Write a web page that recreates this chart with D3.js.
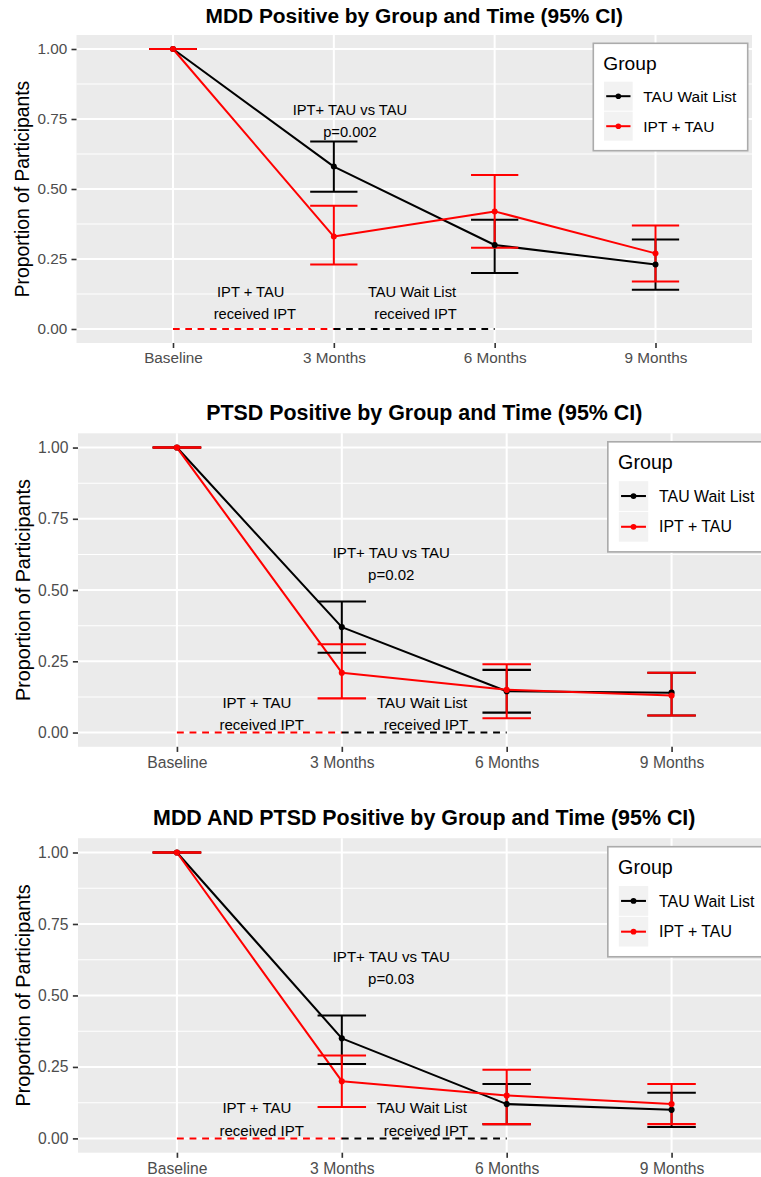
<!DOCTYPE html>
<html><head><meta charset="utf-8">
<script src="https://cdn.jsdelivr.net/npm/d3@7"></script>
<style>
body{margin:0;background:#fff}
svg{display:block;font-family:"Liberation Sans",Arial,Helvetica,sans-serif}
</style>
</head><body>
<svg id="chart" width="761" height="1177"></svg>
<script>
// ---------- DATA ----------
const categories = ["Baseline", "3 Months", "6 Months", "9 Months"];
const groups = ["TAU Wait List", "IPT + TAU"];
const yTicks = [0, 0.25, 0.5, 0.75, 1];
const yMinor = [0.125, 0.375, 0.625, 0.875];
const titles = [
  "MDD Positive by Group and Time (95% CI)",
  "PTSD Positive by Group and Time (95% CI)",
  "MDD AND PTSD Positive by Group and Time (95% CI)"
];
const pLabels = ["p=0.002", "p=0.02", "p=0.03"];
const compareLabel = "IPT+ TAU vs TAU";

// MDD
const mddTau   = [1.00, 0.58, 0.30, 0.23];
const mddTauLo = [1.00, 0.49, 0.20, 0.14];
const mddTauHi = [1.00, 0.67, 0.39, 0.32];
const mddIpt   = [1.00, 0.33, 0.42, 0.27];
const mddIptLo = [1.00, 0.23, 0.29, 0.17];
const mddIptHi = [1.00, 0.44, 0.55, 0.37];
// PTSD
const ptsdTau   = [1.00, 0.37, 0.145, 0.14];
const ptsdTauLo = [1.00, 0.28, 0.07, 0.06];
const ptsdTauHi = [1.00, 0.46, 0.22, 0.21];
const ptsdIpt   = [1.00, 0.21, 0.15, 0.13];
const ptsdIptLo = [1.00, 0.12, 0.05, 0.06];
const ptsdIptHi = [1.00, 0.31, 0.24, 0.21];
// MDD AND PTSD
const bothTau   = [1.00, 0.35, 0.12, 0.10];
const bothTauLo = [1.00, 0.26, 0.05, 0.04];
const bothTauHi = [1.00, 0.43, 0.19, 0.16];
const bothIpt   = [1.00, 0.20, 0.15, 0.12];
const bothIptLo = [1.00, 0.11, 0.05, 0.05];
const bothIptHi = [1.00, 0.29, 0.24, 0.19];

// annotation placements (in data units: x = category index 1..4, y = proportion)
const annMdd  = [
  {label: compareLabel, x: 2.10, y: 0.783}, {label: pLabels[0], x: 2.10, y: 0.705},
  {label: "IPT + TAU", x: 1.483, y: 0.133}, {label: "received IPT", x: 1.509, y: 0.056},
  {label: "TAU Wait List", x: 2.486, y: 0.133}, {label: "received IPT", x: 2.508, y: 0.056}
];
const annPtsd = [
  {label: compareLabel, x: 2.30, y: 0.632}, {label: pLabels[1], x: 2.30, y: 0.554},
  {label: "IPT + TAU", x: 1.485, y: 0.105}, {label: "received IPT", x: 1.514, y: 0.028},
  {label: "TAU Wait List", x: 2.487, y: 0.105}, {label: "received IPT", x: 2.51, y: 0.028}
];
const annBoth = [
  {label: compareLabel, x: 2.30, y: 0.637}, {label: pLabels[2], x: 2.30, y: 0.558},
  {label: "IPT + TAU", x: 1.485, y: 0.107}, {label: "received IPT", x: 1.514, y: 0.029},
  {label: "TAU Wait List", x: 2.485, y: 0.107}, {label: "received IPT", x: 2.51, y: 0.029}
];

// ---------- STYLE / LAYOUT ----------
const colors = ["#000000", "#ff0000"];
const panels = [
  {title: titles[0], series: [[mddTau, mddTauLo, mddTauHi], [mddIpt, mddIptLo, mddIptHi]], ann: annMdd,
   left: 76.5, right: 752, top: 35, bottom: 343, titleY: 22.7, k: 1},
  {title: titles[1], series: [[ptsdTau, ptsdTauLo, ptsdTauHi], [ptsdIpt, ptsdIptLo, ptsdIptHi]], ann: annPtsd,
   left: 78, right: 770.5, top: 433.3, bottom: 746.8, titleY: 420, k: 1.025},
  {title: titles[2], series: [[bothTau, bothTauLo, bothTauHi], [bothIpt, bothIptLo, bothIptHi]], ann: annBoth,
   left: 78, right: 770.5, top: 838.2, bottom: 1152.7, titleY: 825, k: 1.025}
];

const svg = d3.select("#chart");

function drawPanel(p) {
  const k = p.k;
  const g = svg.append("g");
  const x = d3.scalePoint().domain(categories).range([p.left, p.right]).padding(0.6);
  const y = d3.scaleLinear().domain([-0.05, 1.05]).range([p.bottom, p.top]);
  const xu = u => x(categories[0]) + (u - 1) * x.step();

  // panel background
  g.append("rect").attr("x", p.left).attr("y", p.top)
    .attr("width", p.right - p.left).attr("height", p.bottom - p.top).attr("fill", "#ebebeb");

  // grid
  g.selectAll(".minor").data(yMinor).join("line")
    .attr("x1", p.left).attr("x2", p.right).attr("y1", d => y(d)).attr("y2", d => y(d))
    .attr("stroke", "#fff").attr("stroke-width", 1 * k);
  g.selectAll(".majy").data(yTicks).join("line")
    .attr("x1", p.left).attr("x2", p.right).attr("y1", d => y(d)).attr("y2", d => y(d))
    .attr("stroke", "#fff").attr("stroke-width", 2 * k);
  g.selectAll(".majx").data(categories).join("line")
    .attr("x1", d => x(d)).attr("x2", d => x(d)).attr("y1", p.top).attr("y2", p.bottom)
    .attr("stroke", "#fff").attr("stroke-width", 2 * k);

  // dashed "received IPT" segments at y = 0
  const dashSegs = [
    {from: categories[0], to: categories[1], color: colors[1]},
    {from: categories[1], to: categories[2], color: colors[0]}
  ];
  g.selectAll(".dash").data(dashSegs).join("line")
    .attr("x1", d => x(d.from)).attr("x2", d => x(d.to)).attr("y1", y(0)).attr("y2", y(0))
    .attr("stroke", d => d.color).attr("stroke-width", 2 * k)
    .attr("stroke-dasharray", `${6.7 * k},${5.6 * k}`);

  const line = d3.line().x((d, i) => x(categories[i])).y(d => y(d));

  // lines
  p.series.forEach((s, gi) => {
    g.append("path").attr("d", line(s[0])).attr("fill", "none")
      .attr("stroke", colors[gi]).attr("stroke-width", 2 * k).attr("stroke-linejoin", "round");
  });
  // error bars
  const hw = 0.147 * x.step();
  p.series.forEach((s, gi) => {
    const eb = g.append("g").attr("stroke", colors[gi]).attr("stroke-width", 2 * k).attr("fill", "none");
    categories.forEach((c, i) => {
      const cx = x(c), lo = y(s[1][i]), hi = y(s[2][i]);
      eb.append("line").attr("x1", cx).attr("x2", cx).attr("y1", lo).attr("y2", hi);
      eb.append("line").attr("x1", cx - hw).attr("x2", cx + hw).attr("y1", lo).attr("y2", lo);
      eb.append("line").attr("x1", cx - hw).attr("x2", cx + hw).attr("y1", hi).attr("y2", hi);
    });
  });
  // points
  p.series.forEach((s, gi) => {
    g.append("g").selectAll("circle").data(s[0]).join("circle")
      .attr("cx", (d, i) => x(categories[i])).attr("cy", d => y(d)).attr("r", 3 * k)
      .attr("fill", colors[gi]);
  });

  // annotations
  g.selectAll(".ann").data(p.ann).join("text")
    .attr("x", d => xu(d.x)).attr("y", d => y(d.y)).attr("dy", "0.36em")
    .attr("text-anchor", "middle").attr("font-size", 14.7 * k).attr("fill", "#000")
    .text(d => d.label);

  // axes
  const ya = g.append("g").attr("transform", `translate(${p.left},0)`)
    .call(d3.axisLeft(y).tickValues(yTicks).tickFormat(d3.format(".2f")).tickSize(5 * k).tickPadding(4.3 * k));
  const xa = g.append("g").attr("transform", `translate(0,${p.bottom})`)
    .call(d3.axisBottom(x).tickSize(5 * k).tickPadding(4.5 * k));
  [ya, xa].forEach(a => {
    a.select(".domain").remove();
    a.selectAll(".tick line").attr("stroke", "#333333").attr("stroke-width", 1.6 * k);
    a.selectAll(".tick text").attr("fill", "#4d4d4d").attr("font-size", 15.3 * k)
      .attr("font-family", "Liberation Sans, Arial, sans-serif");
  });

  // title
  g.append("text").attr("x", (p.left + p.right) / 2).attr("y", p.titleY)
    .attr("text-anchor", "middle").attr("font-weight", "bold").attr("font-size", 20.9 * k)
    .attr("fill", "#000").text(p.title);

  // y axis title
  g.append("text").attr("transform", `translate(${29 * k},${(p.top + p.bottom) / 2}) rotate(-90)`)
    .attr("text-anchor", "middle").attr("font-size", 19.3 * k).attr("fill", "#000")
    .text("Proportion of Participants");

  // legend
  const bw = 154.4 * k, bh = 107.4 * k;
  const bx = p.right - 4.3 * k - bw, by = p.top + 8.3 * k;
  const lg = g.append("g").attr("transform", `translate(${bx},${by})`);
  lg.append("rect").attr("width", bw).attr("height", bh).attr("fill", "#fff")
    .attr("stroke", "#ababab").attr("stroke-width", 1.6 * k);
  lg.append("text").attr("x", 10 * k).attr("y", 20 * k).attr("dy", "0.36em")
    .attr("font-size", 19.2 * k).attr("fill", "#000").text("Group");
  groups.forEach((gname, gi) => {
    const ky = (38.4 + gi * 30) * k, kh = 29 * k, kx = 10.7 * k, kw = 28.7 * k;
    lg.append("rect").attr("x", kx).attr("y", ky).attr("width", kw).attr("height", kh).attr("fill", "#f2f2f2");
    lg.append("line").attr("x1", kx + 2.2 * k).attr("x2", kx + kw - 2.2 * k)
      .attr("y1", ky + kh / 2).attr("y2", ky + kh / 2)
      .attr("stroke", colors[gi]).attr("stroke-width", 2 * k);
    lg.append("circle").attr("cx", kx + kw / 2).attr("cy", ky + kh / 2).attr("r", 2.8 * k).attr("fill", colors[gi]);
    lg.append("text").attr("x", 50 * k).attr("y", ky + kh / 2).attr("dy", "0.36em")
      .attr("font-size", 15.5 * k).attr("fill", "#000").text(gname);
  });
}

panels.forEach(drawPanel);
</script>
</body></html>
